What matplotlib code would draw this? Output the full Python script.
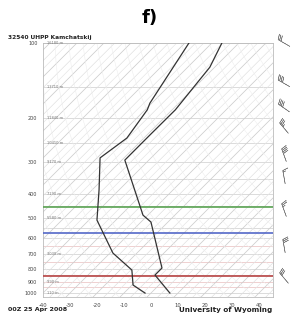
import numpy as np
import matplotlib
matplotlib.use("Agg")
import matplotlib.pyplot as plt

# ---------------------------------------------------------------------------
# Sounding values (pressure hPa, temperature C)
# ---------------------------------------------------------------------------
temp_p = [1000, 847, 794, 520, 488, 294, 233, 185, 125, 100]
temp_t = [7.0, -5.2, -5.2, -26.3, -31.8, -58.9, -58.9, -58.8, -61.8, -66.3]

dewp_p = [1000, 929, 809, 692, 511, 387, 288, 240, 185, 174, 100]
dewp_t = [-2.2, -9.6, -15.6, -28.9, -47.0, -57.4, -68.9, -66.3, -69.2, -70.7, -78.5]

# wind barbs: pressure, direction (deg), speed (kt)
wind_p = [100, 145, 182, 219, 281, 344, 466, 649, 871]
wind_dir = [300, 300, 305, 320, 340, 350, 340, 350, 320]
wind_spd = [30, 40, 40, 35, 40, 15, 25, 30, 30]

# marked levels (pressure, colour)
level_p = [453, 576, 855]
level_c = ["#5aa352", "#5468c8", "#b84444"]

p_labels = [100, 200, 300, 400, 500, 600, 700, 800, 900, 1000]
h_labels = {100: "16180 m", 150: "13710 m", 200: "11840 m", 250: "10410 m",
            300: "9170 m", 400: "7190 m", 500: "5580 m", 700: "3030 m",
            900: "990 m", 1000: "110 m"}
t_ticks = [-40, -30, -20, -10, 0, 10, 20, 30, 40]

SKEW = 40.2
P0 = 1000.0


def skew_x(t, p):
    return np.asarray(t) + SKEW * np.log(P0 / np.asarray(p, dtype=float))


fig = plt.figure(figsize=(2.94, 3.17), dpi=100)
W, H = 294.0, 317.0
ax = fig.add_axes([43 / W, 1 - 297 / H, 230 / W, 254 / H])
ax.set_yscale("log")
ax.set_ylim(1037, 100)
ax.set_xlim(-40, 45.2)

pp = np.logspace(np.log10(100), np.log10(1050), 80)

# isobars
for p in range(100, 1001, 50):
    ax.axhline(p, color="#d6d6d6", lw=0.6, zorder=1)
for p in [650, 750, 900, 950]:
    ax.axhline(p, color="#f3d0d0", lw=0.6, zorder=1)

# isotherms
for t in range(-140, 60, 10):
    ax.plot(skew_x(t, pp), pp, color="#cdcdcd", lw=0.55, zorder=1)
for t in range(-136, 60, 10):
    ax.plot(skew_x(t, pp), pp, color="#dedede", lw=0.45, zorder=1)
for t in range(-143, 60, 10):
    ax.plot(skew_x(t, pp), pp, color="#e4e4e4", lw=0.45, zorder=1)

# dry adiabats
for th in range(230, 480, 10):
    tt = th * (pp / P0) ** 0.2857 - 273.15
    ax.plot(skew_x(tt, pp), pp, color="#eeeeee", lw=0.4, zorder=1)

for p, c in zip(level_p, level_c):
    ax.axhline(p, color=c, lw=1.2, zorder=3)

ax.plot(skew_x(temp_t, temp_p), temp_p, color="#333333", lw=0.9, zorder=4)
ax.plot(skew_x(dewp_t, dewp_p), dewp_p, color="#333333", lw=0.9, zorder=4)

ax.set_yticks(p_labels)
ax.set_yticklabels([str(p) for p in p_labels], fontsize=3.5, color="#444444")
ax.yaxis.set_minor_locator(matplotlib.ticker.NullLocator())
ax.set_xticks(t_ticks)
ax.set_xticklabels([str(t) for t in t_ticks], fontsize=3.8, color="#444444")
ax.tick_params(length=0, pad=4)
for s in ax.spines.values():
    s.set_color("#bbbbbb")
    s.set_linewidth(0.6)

for p, txt in h_labels.items():
    ax.text(-38.5, p, txt, fontsize=2.6, color="#777777", va="center", ha="left", zorder=5)

# wind barbs
axb = fig.add_axes([274 / W, 1 - 297 / H, 20 / W, 254 / H])
axb.set_yscale("log")
axb.set_ylim(1037, 100)
axb.set_xlim(-1, 1)
axb.axis("off")
rad = np.deg2rad(wind_dir)
u = -np.array(wind_spd) * np.sin(rad)
v = -np.array(wind_spd) * np.cos(rad)
axb.barbs(np.full(len(wind_p), 0.0), wind_p, u, v, length=4.4, linewidth=0.4,
          color="#808080", pivot="middle", sizes=dict(emptybarb=0.0), clip_on=False)

fig.text(150 / W, 1 - 18 / H, "f)", fontsize=13, fontweight="bold", ha="center", va="center")
fig.text(8 / W, 1 - 37 / H, "32540 UHPP Kamchatskij", fontsize=4.2, fontweight="bold",
         ha="left", va="center", color="#222222")
fig.text(8 / W, 1 - 309 / H, "00Z 25 Apr 2008", fontsize=4.6, fontweight="bold",
         ha="left", va="center", color="#222222")
fig.text(272 / W, 1 - 310 / H, "University of Wyoming", fontsize=5.2, fontweight="bold",
         ha="right", va="center", color="#222222")

fig.savefig("out.png", dpi=100, facecolor="white")
